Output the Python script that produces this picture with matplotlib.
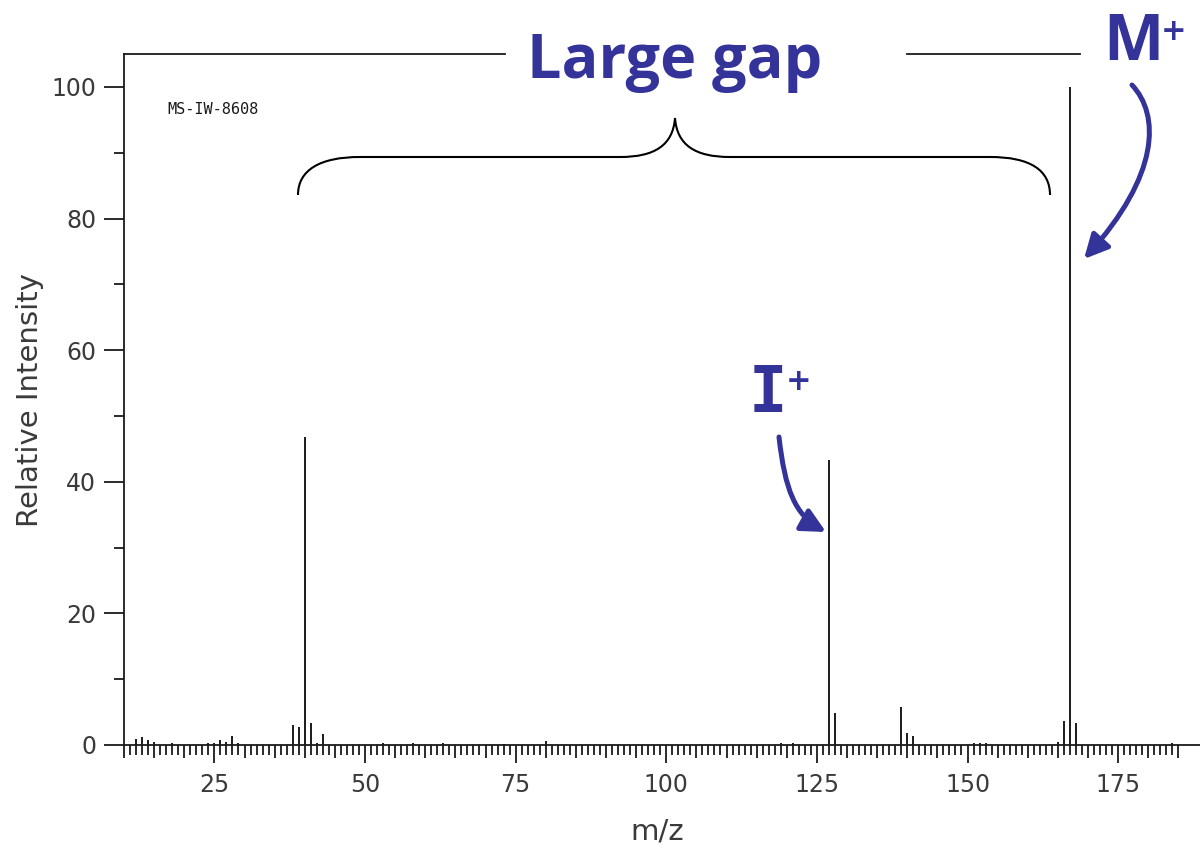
import matplotlib
matplotlib.use("Agg")
import matplotlib.pyplot as plt
from matplotlib.path import Path
from matplotlib.patches import PathPatch, FancyArrowPatch
from matplotlib.lines import Line2D
from matplotlib.ticker import FixedLocator

# ---------------- data ----------------
mz = [12, 13, 14, 15, 18, 24, 25, 26, 27, 28, 29,
      38, 39, 40, 41, 42, 43, 53, 58, 63, 73, 80,
      119, 121, 127, 128, 139, 140, 141, 151, 152, 153,
      165, 166, 167, 168, 184]
intensity = [0.9, 1.2, 0.7, 0.4, 0.35, 0.25, 0.25, 0.8, 0.5, 1.3, 0.25,
             3.1, 2.8, 46.8, 3.3, 0.3, 1.7, 0.3, 0.25, 0.3, 0.2, 0.6,
             0.3, 0.3, 43.3, 4.8, 5.8, 1.8, 1.4, 0.3, 0.3, 0.3,
             0.5, 3.6, 100.0, 3.3, 0.3]
x_tick_labels = [25, 50, 75, 100, 125, 150, 175]
y_tick_labels = [0, 20, 40, 60, 80, 100]
sample_id = "MS-IW-8608"

# ---------------- figure ----------------
W, H = 1200, 849
fig = plt.figure(figsize=(W / 100, H / 100), dpi=100)
fig.patch.set_facecolor("white")


def fx(px):
    return px / W


def fy(py):
    return 1 - py / H


LINE = "#1a1a1a"
TXT = "#3a3a3a"
BLUE = "#333399"

ax = fig.add_axes([fx(124), fy(745), (1208.5 - 124) / W, (745 - 54) / H])
ax.set_xlim(10, 190)
ax.set_ylim(0, 105)
ax.vlines(mz, 0, intensity, colors=LINE, linewidth=1.4, zorder=3)

for s in ["top", "right"]:
    ax.spines[s].set_visible(False)
for s in ["left", "bottom"]:
    ax.spines[s].set_linewidth(1.3)
    ax.spines[s].set_color(LINE)

# x ticks: long every 25 (labelled), medium every 5, short every 1
all_ticks = list(range(10, 186))
ax.xaxis.set_major_locator(FixedLocator(x_tick_labels))
ax.xaxis.set_minor_locator(FixedLocator([v for v in all_ticks if v % 5 != 0]))
ax.tick_params(axis="x", which="major", length=13.3, width=1.3, color=LINE,
               labelsize=17, labelcolor=TXT, pad=7)
ax.tick_params(axis="x", which="minor", length=7.2, width=1.3, color=LINE)
sec = ax.secondary_xaxis("bottom")
sec.xaxis.set_major_locator(FixedLocator([v for v in all_ticks if v % 5 == 0 and v % 25 != 0]))
sec.xaxis.set_minor_locator(FixedLocator([]))
sec.tick_params(axis="x", which="major", length=9.7, width=1.3, color=LINE,
                labelbottom=False)
sec.spines["bottom"].set_visible(False)

# y ticks
ax.yaxis.set_major_locator(FixedLocator(y_tick_labels))
ax.yaxis.set_minor_locator(FixedLocator([10, 30, 50, 70, 90]))
ax.tick_params(axis="y", which="major", length=14.4, width=1.3, color=LINE,
               labelsize=17, labelcolor=TXT, pad=5.5)
ax.tick_params(axis="y", which="minor", length=7.2, width=1.3, color=LINE)
for lab in ax.get_xticklabels() + ax.get_yticklabels():
    lab.set_family("DejaVu Sans")

fig.text(fx(30), fy(400), "Relative Intensity", rotation=90, ha="center",
         va="center", fontsize=21, color=TXT, family="DejaVu Sans")
fig.text(fx(657), fy(831), "m/z", ha="center", va="center", fontsize=21,
         color=TXT, family="DejaVu Sans")
fig.text(fx(167), fy(110), sample_id, ha="left", va="center", fontsize=11,
         color=LINE, family="DejaVu Sans Mono")

# top frame line, interrupted by the annotations
for x0, x1 in [(124, 505), (907, 1080)]:
    fig.add_artist(Line2D([fx(x0), fx(x1)], [fy(54), fy(54)], color=LINE,
                          linewidth=1.3, transform=fig.transFigure))

# curly brace
bp = [(298, 195), (298, 170), (320, 157), (360, 157),
      (620, 157),
      (655, 157), (673, 145), (675, 118),
      (677, 145), (695, 157), (730, 157),
      (990, 157),
      (1030, 157), (1050, 170), (1050, 195)]
codes = [Path.MOVETO, Path.CURVE4, Path.CURVE4, Path.CURVE4,
         Path.LINETO,
         Path.CURVE4, Path.CURVE4, Path.CURVE4,
         Path.CURVE4, Path.CURVE4, Path.CURVE4,
         Path.LINETO,
         Path.CURVE4, Path.CURVE4, Path.CURVE4]
brace = Path([(fx(x), fy(y)) for x, y in bp], codes)
fig.add_artist(PathPatch(brace, facecolor="none", edgecolor="black",
                         linewidth=1.5, transform=fig.transFigure))

# annotation texts
fig.text(fx(527), fy(78), "Large gap", ha="left", va="baseline", fontsize=44,
         fontweight="bold", color=BLUE, family="Open Sans")
fig.text(fx(1103), fy(60), "M", ha="left", va="baseline", fontsize=46,
         fontweight="bold", color=BLUE, family="Open Sans")
fig.text(fx(1174), fy(31), "+", ha="center", va="center", fontsize=22,
         fontweight="bold", color=BLUE, family="DejaVu Sans")
fig.text(fx(749), fy(412), "I", ha="left", va="baseline", fontsize=46,
         fontweight="bold", color=BLUE, family="DejaVu Sans Mono")
fig.text(fx(799), fy(381), "+", ha="center", va="center", fontsize=22,
         fontweight="bold", color=BLUE, family="DejaVu Sans")

# arrows
def curved_arrow(pts):
    p = Path([(fx(x), fy(y)) for x, y in pts],
             [Path.MOVETO, Path.CURVE4, Path.CURVE4, Path.CURVE4])
    arr = FancyArrowPatch(path=p, arrowstyle="-|>,head_length=0.6,head_width=0.3",
                          mutation_scale=24, color=BLUE, linewidth=3.6,
                          transform=fig.transFigure)
    fig.add_artist(arr)


curved_arrow([(1132, 85), (1160, 115), (1160, 175), (1084, 259)])
curved_arrow([(779, 437), (785, 490), (795, 515), (826, 532)])

fig.savefig("out.png", dpi=100, facecolor="white")
